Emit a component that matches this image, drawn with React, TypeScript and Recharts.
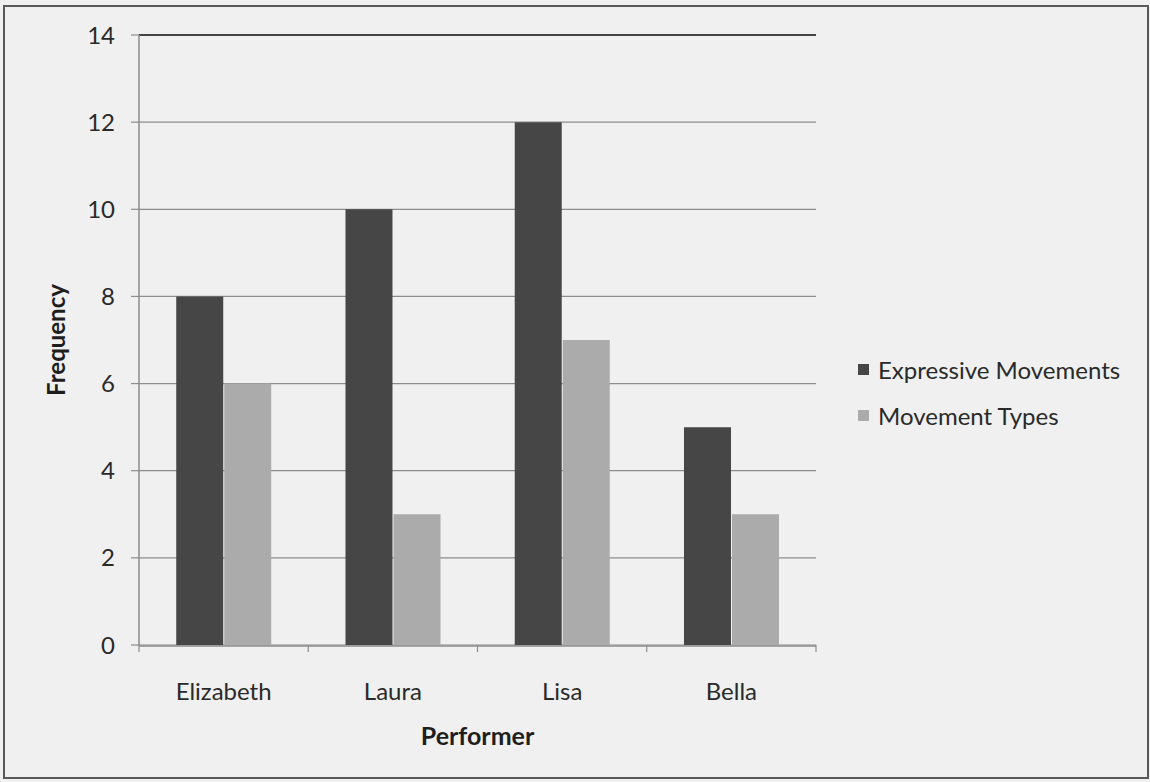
import React from 'react';
import { BarChart, Bar, XAxis, YAxis, CartesianGrid, ReferenceLine, Legend } from 'recharts';

const performers = ['Elizabeth', 'Laura', 'Lisa', 'Bella'];
const expressiveMovements = [8, 10, 12, 5];
const movementTypes = [6, 3, 7, 3];
const yTicks = [0, 2, 4, 6, 8, 10, 12, 14];
const boundaryTicks = [0, 1, 2, 3, 4];
const seriesNames = ['Expressive Movements', 'Movement Types'];
const seriesColors = ['#464646', '#ababab'];

const data = performers.map((p, i) => ({
  name: p,
  expressive: expressiveMovements[i],
  types: movementTypes[i],
  pos: i + 0.5,
}));

const FONT = 'Lato, "Open Sans", sans-serif';

const LegendContent = (props: any) => {
  const payload = props.payload || [];
  return (
    <div style={{ fontFamily: FONT, fontSize: 24, color: '#2a2a2a' }}>
      {payload.map((entry: any, i: number) => (
        <div key={i} style={{ display: 'flex', alignItems: 'center', height: 46 }}>
          <span style={{ display: 'inline-block', width: 11, height: 11, background: entry.color, marginRight: 9 }} />
          <span>{entry.value}</span>
        </div>
      ))}
    </div>
  );
};

export default function App() {
  return (
    <div style={{ position: 'absolute', left: 0, top: 0, width: 1150, height: 782, background: '#f0f0f0' }}>
      <div style={{ position: 'absolute', left: 3, top: 5, width: 1142, height: 770, border: '2px solid #5a5a5a' }} />
      <div style={{ position: 'absolute', left: 0, top: 0 }}>
        <BarChart
          width={1150}
          height={782}
          data={data}
          margin={{ top: 35, right: 334, bottom: 0, left: 0 }}
          barCategoryGap="22%"
          barGap={1}
        >
          <CartesianGrid vertical={false} stroke="#8c8c8c" strokeWidth={1.2} yAxisId="left" xAxisId="cat" />
          <XAxis
            xAxisId="bounds"
            dataKey="pos"
            type="number"
            domain={[0, 4]}
            allowDataOverflow
            ticks={boundaryTicks}
            interval={0}
            height={1}
            axisLine={false}
            tickLine={{ stroke: '#8c8c8c', strokeWidth: 1.2 }}
            tickSize={7}
            tickFormatter={() => ''}
            tick={{ fontSize: 1, fill: 'none' }}
          />
          <XAxis
            xAxisId="cat"
            dataKey="name"
            height={136}
            axisLine={{ stroke: '#8c8c8c', strokeWidth: 1.5 }}
            tickLine={false}
            tickMargin={31}
            tick={{ fontFamily: FONT, fontSize: 24, fill: '#2a2a2a' }}
            label={{ value: 'Performer', position: 'center', dy: 22, style: { fontFamily: FONT, fontSize: 25, fontWeight: 700, fill: '#1e1e1e' } }}
          />
          <YAxis
            yAxisId="left"
            width={139}
            domain={[0, 14]}
            ticks={yTicks}
            interval={0}
            axisLine={{ stroke: '#8c8c8c', strokeWidth: 1.5 }}
            tickLine={{ stroke: '#8c8c8c', strokeWidth: 1.2 }}
            tickSize={8}
            tickMargin={16}
            tick={{ fontFamily: FONT, fontSize: 24, fill: '#2a2a2a' }}
            label={{ value: 'Frequency', angle: -90, position: 'center', dx: -13, style: { fontFamily: FONT, fontSize: 24, fontWeight: 700, fill: '#1e1e1e', textAnchor: 'middle' } }}
          />
          <YAxis
            yAxisId="right"
            orientation="right"
            width={0}
            domain={[0, 14]}
            ticks={yTicks}
            axisLine={{ stroke: '#444444', strokeWidth: 2 }}
            tickLine={false}
            tick={false}
          />
          <ReferenceLine yAxisId="left" xAxisId="cat" y={14} stroke="#444444" strokeWidth={2} />
          <Bar xAxisId="cat" yAxisId="left" dataKey="expressive" name={seriesNames[0]} fill={seriesColors[0]} isAnimationActive={false} />
          <Bar xAxisId="cat" yAxisId="left" dataKey="types" name={seriesNames[1]} fill={seriesColors[1]} isAnimationActive={false} />
          <Legend
            layout="vertical"
            align="center"
            verticalAlign="middle"
            content={<LegendContent />}
            wrapperStyle={{ position: 'absolute', left: 858, top: 346, width: 290, height: 92 }}
          />
        </BarChart>
      </div>
    </div>
  );
}
